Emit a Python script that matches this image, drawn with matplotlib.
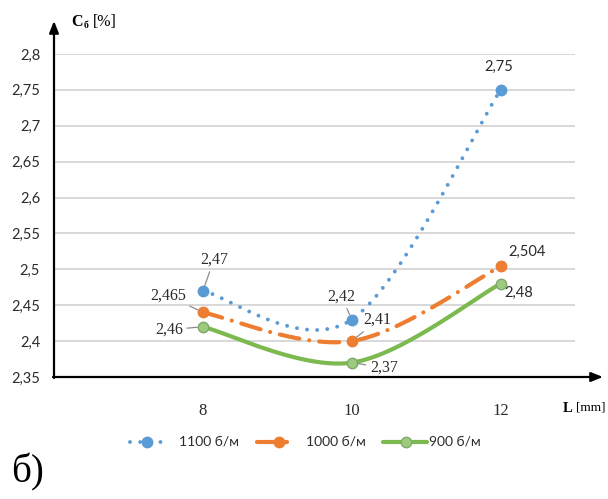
import numpy as np
import matplotlib
matplotlib.use("Agg")
import matplotlib.pyplot as plt
from matplotlib.lines import Line2D

# ---- data -------------------------------------------------------------
lengths = [8, 10, 12]
c_1100 = [2.47, 2.43, 2.75]
c_1000 = [2.44, 2.40, 2.504]
c_900 = [2.42, 2.37, 2.48]

labels_1100 = ["2,47", "2,42", "2,75"]
labels_1000 = ["2,465", "2,41", "2,504"]
labels_900 = ["2,46", "2,37", "2,48"]

series_names = ["1100 б/м", "1000 б/м", "900 б/м"]
y_ticks = [2.35, 2.4, 2.45, 2.5, 2.55, 2.6, 2.65, 2.7, 2.75, 2.8]

SANS = "Lato"
SERIF = "Liberation Serif"
BLUE, ORANGE, GREEN = "#5B9BD5", "#ED7D31", "#7CB94F"
GRID = "#D6D6D6"
LEADER = "#8C8C8C"
TEXT = "#2B2B2B"

W, H = 608, 499
fig = plt.figure(figsize=(W / 100, H / 100), dpi=100)


def px_axes(left, top, right, bottom):
    return [left / W, 1 - bottom / H, (right - left) / W, (bottom - top) / H]


def smooth(xs, ys, n=80):
    """Cubic Bezier smoothing through the points (spreadsheet style)."""
    pts = np.column_stack([xs, ys]).astype(float)
    out = []
    for i in range(len(pts) - 1):
        p0 = pts[i - 1] if i > 0 else pts[i]
        p1, p2 = pts[i], pts[i + 1]
        p3 = pts[i + 2] if i + 2 < len(pts) else pts[i + 1]
        c1 = p1 + (p2 - p0) / 6.0
        c2 = p2 - (p3 - p1) / 6.0
        t = np.linspace(0, 1, n)[:, None]
        seg = ((1 - t) ** 3) * p1 + 3 * ((1 - t) ** 2) * t * c1 \
            + 3 * (1 - t) * t ** 2 * c2 + t ** 3 * p2
        out.append(seg if i == 0 else seg[1:])
    s = np.vstack(out)
    return s[:, 0], s[:, 1]


DOTTED = (0, (0.01, 2.6))
DASHDOT = (0, (4.8, 2.4, 0.01, 2.4))

# ---- main plot ---------------------------------------------------------
ax = fig.add_axes(px_axes(54, 54, 575, 377))
ax.set_xlim(6, 13)
ax.set_ylim(2.35, 2.8)
for s in ax.spines.values():
    s.set_visible(False)

for v in y_ticks[1:]:
    ax.axhline(v, color=GRID, lw=1.3, zorder=0)

ax.set_yticks(y_ticks)
ax.set_yticklabels([f"{v:g}".replace(".", ",") for v in y_ticks],
                   fontfamily=SANS, fontsize=10.5, color=TEXT)
ax.set_xticks(lengths)
ax.set_xticklabels([str(v) for v in lengths], fontfamily=SERIF,
                   fontsize=12, fontweight="normal", color=TEXT)
ax.tick_params(axis="y", length=0, pad=10)
ax.tick_params(axis="x", length=0, pad=19)

# 1100 - dotted
xs, ys = smooth(lengths, c_1100)
ax.plot(xs, ys, color=BLUE, lw=2.8, linestyle=DOTTED,
        dash_capstyle="round", zorder=3)
ax.plot(lengths, c_1100, "o", color=BLUE, ms=7.5, zorder=4)

# 1000 - dash-dot
xs, ys = smooth(lengths, c_1000)
ax.plot(xs, ys, color=ORANGE, lw=3.0, linestyle=DASHDOT,
        dash_capstyle="round", zorder=3)
ax.plot(lengths, c_1000, "o", color=ORANGE, ms=7.5, zorder=4)

# 900 - solid
xs, ys = smooth(lengths, c_900)
ax.plot(xs, ys, color=GREEN, lw=3.0, solid_capstyle="round", zorder=3)
ax.plot(lengths, c_900, "o", color="#9CCB7E", mec="#7FA86A", mew=1.0,
        ms=7.5, zorder=4)


def label(x, y, text, dx, dy, family, leader=True):
    kw = dict(xy=(x, y), xytext=(dx, dy), textcoords="offset pixels",
              ha="center", va="center",
              fontsize=11.5 if family == SERIF else 10.5,
              fontfamily=family, color=TEXT, zorder=6)
    if leader:
        kw["arrowprops"] = dict(arrowstyle="-", color=LEADER, lw=0.9,
                                shrinkA=1, shrinkB=4)
    ax.annotate(text, **kw)


# data labels: (offset x, offset y, family, leader)
opts_1100 = [(11, 31, SERIF, True), (-10, 23, SERIF, True), (-2, 23, SANS, False)]
opts_1000 = [(-35, 17, SERIF, True), (26, 21, SERIF, True), (26, 15, SANS, False)]
opts_900 = [(-34, -3, SERIF, True), (32, -5, SERIF, True), (18, -9, SANS, False)]
for vals, labs, opts in [(c_1100, labels_1100, opts_1100),
                         (c_1000, labels_1000, opts_1000),
                         (c_900, labels_900, opts_900)]:
    for x, y, t, (dx, dy, fam, ld) in zip(lengths, vals, labs, opts):
        label(x, y, t, dx, dy, fam, ld)

# ---- overlay in pixel coordinates: axes arrows, titles, legend ----------
ov = fig.add_axes([0, 0, 1, 1])
ov.set_xlim(0, W)
ov.set_ylim(H, 0)
ov.axis("off")

arrow = dict(arrowstyle="-|>,head_length=0.7,head_width=0.28", color="black",
             lw=1.6, shrinkA=0, shrinkB=0)
ov.annotate("", xy=(54, 21), xytext=(54, 378), arrowprops=arrow)
ov.annotate("", xy=(603, 377), xytext=(53, 377), arrowprops=arrow)

ov.text(71, 22, "C", fontfamily=SERIF, fontweight="bold", fontsize=11.5,
        ha="left", va="center")
ov.text(84, 25.5, "б", fontfamily=SERIF, fontweight="bold", fontsize=7,
        ha="left", va="center")
ov.text(93, 22, "[%]", fontfamily=SERIF, fontsize=11.5, ha="left", va="center")

ov.text(563, 408, "L", fontfamily=SERIF, fontweight="bold", fontsize=10.5,
        ha="left", va="center")
ov.text(576, 408, "[mm]", fontfamily=SERIF, fontsize=9.5, ha="left", va="center")

# legend
ly = 442
ov.add_line(Line2D([130, 164], [ly, ly], color=BLUE, lw=2.8,
                   linestyle=DOTTED, dash_capstyle="round"))
ov.plot([147], [ly], "o", color=BLUE, ms=7.5)
ov.text(179, ly, series_names[0], fontfamily=SANS, fontsize=10,
        ha="left", va="center", color=TEXT)

ov.add_line(Line2D([257, 287], [ly, ly], color=ORANGE, lw=3.0,
                   solid_capstyle="round"))
ov.plot([279], [ly], "o", color=ORANGE, ms=7.5)
ov.text(306, ly, series_names[1], fontfamily=SANS, fontsize=10,
        ha="left", va="center", color=TEXT)

ov.add_line(Line2D([383, 427], [ly, ly], color=GREEN, lw=3.0,
                   solid_capstyle="round"))
ov.plot([406], [ly], "o", color="#9CCB7E", mec="#7FA86A", mew=1.0, ms=7.5)
ov.text(429, ly, series_names[2], fontfamily=SANS, fontsize=10,
        ha="left", va="center", color=TEXT)

ov.text(11, 472, "б)", fontfamily=SERIF, fontsize=28, ha="left", va="center")

fig.savefig("out.png", dpi=100)
